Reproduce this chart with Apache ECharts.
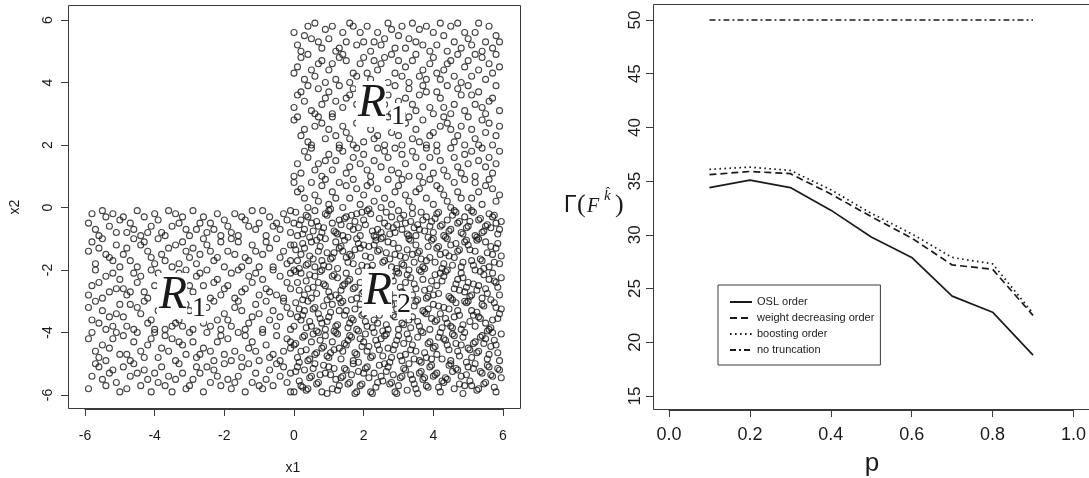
<!DOCTYPE html>
<html>
<head>
<meta charset="utf-8">
<title>R1 / R2 regions and truncation order</title>
<script src="https://cdn.jsdelivr.net/npm/echarts@6/dist/echarts.min.js"></script>
<style>
  html, body { margin: 0; padding: 0; background: #fff; }
  #main { width: 1089px; height: 478px; }
</style>
</head>
<body>
<div id="main"></div>
<script>
'use strict';

// ---- left panel: sample points (x1, x2) ----
// upper part of R1: x1 in [0,6], x2 in [0,6]
var upperPts = [
  [0.3,5.5],[2.7,5.9],[4.1,5.2],[1.2,5.0],[5.6,5.8],[3.3,5.4],[0.9,5.7],[4.8,5.1],[2.0,5.3],[5.2,5.6],[1.6,5.9],[3.9,5.0],[0.1,5.2],[2.4,5.6],[4.5,5.8],[5.9,5.3],[1.0,5.4],[3.6,5.7],[2.9,5.1],[0.6,5.9],
  [5.4,5.0],[4.3,5.5],[1.8,5.2],[3.1,5.8],[0.2,5.0],[2.2,5.0],[5.0,5.4],[3.7,5.2],[1.4,5.6],[4.7,5.9],[0.7,5.3],[2.6,5.4],[5.7,5.1],[3.4,5.9],[1.1,5.8],[4.0,5.6],[0.4,5.8],[5.3,5.9],[2.1,5.8],[3.0,5.5],
  [4.6,5.3],[1.9,5.6],[5.8,5.5],[0.8,5.1],[3.8,5.8],[2.5,5.2],[4.2,5.9],[1.5,5.3],[5.1,5.2],[0.0,5.6],[3.2,5.1],[4.9,5.6],[2.8,5.7],[1.3,5.1],[5.5,5.3],[0.5,5.4],[4.4,5.0],[3.5,5.3],[2.3,5.3],[1.7,5.8],
  [1.1,4.6],[3.8,4.1],[0.4,4.9],[5.3,4.4],[2.6,4.8],[4.6,4.2],[0.9,4.0],[3.2,4.5],[5.8,4.9],[1.7,4.3],[4.0,4.8],[2.2,4.1],[0.1,4.5],[5.0,4.7],[3.5,4.9],[1.4,4.9],[4.8,4.0],[2.9,4.3],[0.6,4.2],[5.5,4.1],
  [3.0,4.7],[1.9,4.6],[4.3,4.4],[0.2,4.8],[5.9,4.5],[2.4,4.4],[3.6,4.2],[1.2,4.1],[4.5,4.7],[0.8,4.7],[5.2,4.9],[2.0,4.8],[3.9,4.6],[1.6,4.0],[4.9,4.5],[0.3,4.1],[2.7,4.0],[5.6,4.6],[3.3,4.0],[1.0,4.4],
  [4.2,4.1],[2.5,4.6],[0.5,4.4],[5.4,4.8],[3.1,4.2],[1.5,4.7],[4.7,4.9],[2.1,4.3],[0.0,4.3],[5.7,4.3],[3.7,4.4],[1.8,4.2],[4.4,4.6],[2.8,4.9],[0.7,4.6],[5.1,4.2],[3.4,4.7],[1.3,4.8],[4.1,4.3],[2.3,4.7],
  [2.1,3.4],[4.7,3.8],[0.5,3.1],[3.6,3.6],[5.4,3.2],[1.3,3.9],[2.8,3.0],[4.2,3.5],[0.2,3.7],[5.8,3.9],[1.8,3.3],[3.3,3.8],[4.9,3.1],[0.9,3.5],[2.5,3.7],[5.1,3.6],[3.9,3.2],[1.1,3.0],[4.4,3.9],[0.0,3.2],
  [2.3,3.1],[5.6,3.4],[3.0,3.4],[1.6,3.6],[4.0,3.0],[0.7,3.8],[2.9,3.9],[5.3,3.7],[3.5,3.1],[1.4,3.2],[4.6,3.3],[0.3,3.4],[2.6,3.3],[5.9,3.1],[3.8,3.7],[1.0,3.7],[4.3,3.2],[2.0,3.8],[0.6,3.0],[5.0,3.9],
  [3.2,3.5],[1.9,3.0],[4.8,3.6],[2.7,3.6],[0.4,3.9],[5.5,3.0],[3.7,3.9],[1.2,3.4],[4.1,3.7],[2.2,3.9],[0.8,3.3],[5.7,3.5],[3.4,3.3],[1.7,3.8],[4.5,3.0],[2.4,3.5],[0.1,3.6],[5.2,3.3],[3.1,3.0],[1.5,3.5],
  [3.4,2.2],[0.8,2.7],[5.1,2.5],[2.0,2.1],[4.3,2.9],[1.5,2.4],[5.7,2.0],[2.9,2.6],[0.2,2.3],[4.0,2.4],[1.1,2.9],[3.7,2.8],[5.4,2.8],[2.4,2.3],[0.5,2.0],[4.6,2.1],[1.8,2.7],[3.1,2.0],[5.9,2.6],[0.9,2.2],
  [2.7,2.9],[4.8,2.6],[1.3,2.0],[3.5,2.5],[5.2,2.2],[0.0,2.8],[2.2,2.5],[4.1,2.0],[1.6,2.2],[3.9,2.3],[5.5,2.4],[0.6,2.6],[2.6,2.0],[4.4,2.7],[1.0,2.5],[3.2,2.7],[5.0,2.9],[0.3,2.5],[2.1,2.8],[4.7,2.3],
  [1.7,2.0],[3.6,2.1],[5.8,2.3],[0.7,2.9],[2.8,2.4],[4.2,2.6],[1.4,2.6],[3.0,2.3],[5.3,2.0],[0.4,2.1],[2.5,2.7],[4.9,2.0],[1.9,2.9],[3.8,2.0],[5.6,2.7],[1.2,2.3],[3.3,2.9],[4.5,2.5],[2.3,2.2],[0.1,2.9],
  [1.2,1.5],[4.0,1.1],[0.3,1.8],[5.5,1.3],[2.7,1.6],[3.6,1.0],[1.8,1.9],[4.9,1.7],[0.6,1.2],[5.9,1.8],[2.2,1.0],[3.2,1.4],[4.5,1.9],[1.0,1.7],[5.2,1.0],[2.9,1.9],[0.1,1.4],[3.9,1.6],[1.5,1.1],[4.7,1.3],
  [2.5,1.3],[5.6,1.6],[0.8,1.0],[3.4,1.8],[1.9,1.4],[4.2,1.5],[0.4,1.6],[5.0,1.4],[2.0,1.7],[3.0,1.1],[5.7,1.1],[1.3,1.9],[4.4,1.0],[2.6,1.8],[0.9,1.5],[3.7,1.3],[5.4,1.9],[1.6,1.3],[4.1,1.8],[0.0,1.0],
  [2.3,1.5],[3.5,1.6],[4.8,1.1],[1.1,1.2],[5.3,1.5],[2.8,1.2],[0.5,1.9],[3.8,1.9],[1.7,1.6],[4.6,1.6],[2.1,1.2],[5.8,1.4],[0.7,1.4],[3.3,1.0],[4.3,1.2],[1.4,1.8],[2.4,1.9],[5.1,1.8],[0.2,1.1],[3.1,1.7],
  [2.4,0.6],[0.7,0.2],[4.6,0.8],[1.9,0.1],[5.3,0.5],[3.1,0.9],[0.2,0.6],[3.8,0.3],[1.3,0.8],[5.8,0.2],[2.8,0.1],[4.2,0.6],[0.9,0.9],[5.0,0.0],[2.0,0.4],[3.5,0.5],[1.6,0.3],[4.9,0.9],[0.4,0.0],[3.0,0.7],
  [5.5,0.7],[2.2,0.8],[4.0,0.1],[1.1,0.5],[5.9,0.4],[2.6,0.3],[0.0,0.8],[3.7,0.8],[1.8,0.6],[4.4,0.2],[0.6,0.4],[5.1,0.3],[2.9,0.5],[3.3,0.2],[1.4,0.0],[4.7,0.5],[0.3,0.3],[5.6,0.9],[2.3,0.2],[3.9,0.9],
  [1.0,0.1],[4.3,0.4],[2.7,0.9],[0.8,0.7],[5.2,0.8],[3.4,0.0],[1.5,0.7],[4.8,0.3],[2.1,0.7],[5.7,0.6],[0.5,0.8],[3.6,0.6],[1.2,0.3],[4.1,0.7],[2.5,0.0],[0.1,0.5],[5.4,0.1],[3.2,0.4],[1.7,0.9],[4.5,0.0]
];

// left part of R1: x1 in [-6,0], x2 in [-6,0]
var leftPts = [
  [-5.6,-0.9],[-3.2,-0.3],[-1.1,-0.7],[-4.5,-0.1],[-2.4,-0.5],[-0.3,-0.2],[-5.0,-0.4],[-3.8,-0.8],[-1.7,-0.2],[-4.1,-0.6],[-0.8,-0.9],[-2.9,-0.1],[-5.8,-0.2],[-3.5,-0.6],[-1.4,-0.4],[-4.8,-0.8],[-2.1,-0.9],[-0.5,-0.5],[-5.3,-0.6],[-3.0,-0.9],
  [-1.9,-0.6],[-4.3,-0.3],[-0.1,-0.8],[-2.6,-0.3],[-5.5,-0.1],[-3.6,-0.1],[-1.2,-0.1],[-4.7,-0.5],[-2.2,-0.2],[-0.7,-0.3],[-5.1,-0.8],[-3.3,-0.5],[-1.6,-0.9],[-4.0,-0.2],[-0.4,-0.7],[-2.8,-0.7],[-5.9,-0.5],[-3.9,-0.4],[-1.0,-0.5],[-4.4,-0.9],
  [-2.0,-0.4],[-0.9,-0.1],[-5.4,-0.3],[-3.1,-0.7],[-1.5,-0.3],[-4.6,-0.7],[-2.5,-0.8],[-0.2,-0.4],[-5.2,-0.2],[-3.4,-0.2],[-1.8,-0.8],[-4.2,-0.8],[-0.6,-0.6],[-2.7,-0.5],[-5.7,-0.7],[-3.7,-0.9],[-1.3,-0.6],[-4.9,-0.3],[-2.3,-0.7],[-0.1,-0.1],
  [-4.2,-1.4],[-1.6,-1.1],[-5.7,-1.8],[-2.9,-1.3],[-0.4,-1.6],[-3.5,-1.9],[-5.1,-1.2],[-1.0,-1.9],[-4.6,-1.0],[-2.3,-1.7],[-0.1,-1.2],[-3.8,-1.5],[-5.9,-1.4],[-1.9,-1.4],[-4.0,-1.8],[-2.6,-1.0],[-0.7,-1.3],[-5.3,-1.6],[-3.2,-1.1],[-1.3,-1.7],
  [-4.9,-1.5],[-2.0,-1.9],[-0.5,-1.0],[-3.6,-1.3],[-5.5,-1.0],[-1.7,-1.5],[-4.4,-1.2],[-2.8,-1.8],[-0.9,-1.5],[-3.0,-1.6],[-5.0,-1.9],[-1.2,-1.2],[-4.7,-1.7],[-2.4,-1.4],[-0.2,-1.8],[-3.9,-1.0],[-5.6,-1.3],[-1.5,-1.9],[-4.1,-1.6],[-2.1,-1.1],
  [-0.8,-1.1],[-3.3,-1.8],[-5.2,-1.7],[-1.8,-1.0],[-4.5,-1.9],[-2.7,-1.5],[-0.3,-1.4],[-3.7,-1.7],[-5.8,-1.1],[-1.1,-1.4],[-4.8,-1.3],[-2.2,-1.6],[-0.6,-1.9],[-3.4,-1.2],[-5.4,-1.5],[-1.4,-1.6],[-4.3,-1.1],[-2.5,-1.2],[-0.1,-1.7],[-3.1,-1.4],
  [-0.9,-2.3],[-3.7,-2.8],[-5.2,-2.1],[-2.0,-2.6],[-4.4,-2.2],[-0.3,-2.9],[-5.8,-2.5],[-2.7,-2.1],[-1.5,-2.7],[-4.0,-2.5],[-3.1,-2.0],[-5.5,-2.9],[-0.6,-2.0],[-2.4,-2.9],[-4.7,-2.7],[-1.2,-2.4],[-3.4,-2.4],[-5.0,-2.3],[-1.8,-2.1],[-4.2,-2.9],
  [-0.1,-2.6],[-2.9,-2.7],[-5.7,-2.0],[-3.9,-2.1],[-1.0,-2.8],[-4.9,-2.6],[-2.2,-2.3],[-0.4,-2.2],[-3.5,-2.6],[-5.3,-2.7],[-1.6,-2.0],[-4.5,-2.4],[-2.6,-2.5],[-0.8,-2.6],[-3.2,-2.9],[-5.9,-2.8],[-1.3,-2.2],[-4.1,-2.0],[-2.1,-2.8],[-0.2,-2.4],
  [-3.8,-2.3],[-5.1,-2.6],[-1.7,-2.9],[-4.6,-2.1],[-2.8,-2.2],[-0.7,-2.7],[-3.3,-2.1],[-5.6,-2.4],[-1.1,-2.1],[-4.3,-2.7],[-2.5,-2.0],[-0.5,-2.8],[-3.6,-2.9],[-5.4,-2.2],[-1.9,-2.5],[-4.8,-2.8],[-2.3,-2.4],[-0.1,-2.1],[-3.0,-2.5],[-1.4,-2.6],
  [-2.7,-3.5],[-5.0,-3.1],[-0.5,-3.8],[-3.9,-3.3],[-1.6,-3.0],[-4.6,-3.9],[-5.8,-3.6],[-2.1,-3.9],[-0.2,-3.2],[-3.4,-3.7],[-1.0,-3.4],[-4.3,-3.0],[-5.5,-3.3],[-2.5,-3.2],[-0.8,-3.0],[-3.7,-3.9],[-1.3,-3.7],[-4.9,-3.5],[-5.2,-3.8],[-2.0,-3.4],
  [-0.4,-3.5],[-3.1,-3.1],[-1.8,-3.8],[-4.1,-3.6],[-5.7,-3.0],[-2.9,-3.9],[-0.7,-3.6],[-3.6,-3.4],[-1.5,-3.3],[-4.5,-3.2],[-5.3,-3.5],[-2.3,-3.0],[-0.1,-3.9],[-3.3,-3.6],[-1.1,-3.1],[-4.8,-3.8],[-5.9,-3.2],[-2.6,-3.7],[-0.6,-3.3],[-3.8,-3.0],
  [-1.9,-3.6],[-4.0,-3.9],[-5.1,-3.4],[-2.2,-3.6],[-0.9,-3.9],[-3.0,-3.3],[-1.4,-3.9],[-4.4,-3.4],[-5.6,-3.7],[-2.8,-3.1],[-0.3,-3.0],[-3.5,-3.8],[-1.2,-3.5],[-4.7,-3.1],[-5.4,-3.9],[-2.4,-3.8],[-0.1,-3.4],[-3.2,-3.8],[-1.7,-3.2],[-4.2,-3.7],
  [-5.9,-4.2],[-3.6,-4.6],[-1.4,-4.1],[-4.7,-4.9],[-2.2,-4.3],[-0.6,-4.7],[-5.3,-4.5],[-3.0,-4.0],[-1.0,-4.9],[-4.2,-4.4],[-2.8,-4.8],[-0.2,-4.2],[-5.6,-4.8],[-3.3,-4.3],[-1.7,-4.6],[-4.9,-4.1],[-2.5,-4.0],[-0.8,-4.4],[-5.0,-4.7],[-3.9,-4.8],
  [-1.2,-4.3],[-4.4,-4.6],[-2.0,-4.7],[-0.4,-4.9],[-5.8,-4.0],[-3.4,-4.9],[-1.9,-4.2],[-4.6,-4.3],[-2.6,-4.5],[-0.1,-4.5],[-5.2,-4.2],[-3.7,-4.1],[-1.5,-4.8],[-4.0,-4.0],[-2.3,-4.9],[-0.9,-4.0],[-5.5,-4.4],[-3.1,-4.7],[-1.1,-4.6],[-4.8,-4.7],
  [-2.9,-4.3],[-0.5,-4.1],[-5.4,-4.9],[-3.8,-4.5],[-1.6,-4.0],[-4.3,-4.8],[-2.1,-4.1],[-0.7,-4.8],[-5.1,-4.0],[-3.5,-4.2],[-1.3,-4.5],[-4.5,-4.0],[-2.7,-4.7],[-0.3,-4.6],[-5.7,-4.6],[-3.2,-4.4],[-1.8,-4.9],[-4.1,-4.2],[-2.4,-4.6],[-0.1,-4.3],
  [-4.0,-5.3],[-1.8,-5.8],[-5.6,-5.1],[-2.9,-5.5],[-0.7,-5.2],[-3.5,-5.9],[-5.1,-5.6],[-1.3,-5.0],[-4.4,-5.7],[-2.3,-5.2],[-0.2,-5.6],[-3.8,-5.1],[-5.9,-5.8],[-1.0,-5.7],[-4.7,-5.4],[-2.6,-5.9],[-0.5,-5.0],[-3.2,-5.3],[-5.3,-5.3],[-1.6,-5.4],
  [-4.1,-5.9],[-2.0,-5.0],[-0.9,-5.8],[-3.0,-5.7],[-5.7,-5.0],[-1.4,-5.9],[-4.9,-5.1],[-2.4,-5.6],[-0.4,-5.4],[-3.6,-5.4],[-5.0,-5.9],[-1.1,-5.3],[-4.3,-5.2],[-2.8,-5.1],[-0.1,-5.9],[-3.9,-5.6],[-5.4,-5.7],[-1.9,-5.5],[-4.6,-5.0],[-2.1,-5.7],
  [-0.8,-5.5],[-3.3,-5.0],[-5.8,-5.4],[-1.5,-5.1],[-4.2,-5.5],[-2.7,-5.3],[-0.6,-5.7],[-3.1,-5.8],[-5.2,-5.2],[-1.7,-5.6],[-4.8,-5.8],[-2.2,-5.4],[-0.3,-5.1],[-3.7,-5.7],[-5.5,-5.5],[-1.2,-5.6],[-4.5,-5.3],[-2.5,-5.1],[-0.1,-5.3],[-3.4,-5.5]
];

// R1 points that fall in the R2 square: x1 in [0,6], x2 in [-6,0]
var lowerPtsA = [
  [0.4,-0.3],[2.9,-0.8],[5.1,-0.1],[1.6,-0.6],[3.7,-0.4],[0.1,-0.9],[4.5,-0.7],[2.2,-0.2],[5.8,-0.5],[1.0,-0.1],[3.3,-0.9],[4.9,-0.3],[0.7,-0.6],[2.6,-0.5],[5.4,-0.8],[1.3,-0.4],[4.1,-0.2],[3.0,-0.1],[0.3,-0.7],[5.6,-0.2],
  [1.9,-0.9],[4.3,-0.9],[2.4,-0.7],[0.9,-0.2],[3.6,-0.7],[5.0,-0.6],[1.5,-0.3],[4.7,-0.5],[2.0,-0.4],[0.0,-0.5],[3.9,-0.6],[5.3,-0.4],[1.2,-0.8],[2.8,-0.3],[4.0,-0.8],[0.6,-0.1],[5.9,-0.7],[2.3,-0.9],[3.4,-0.2],[1.7,-0.7],
  [4.6,-0.1],[0.2,-0.4],[5.2,-0.9],[2.7,-0.6],[3.8,-0.3],[1.1,-0.5],[4.4,-0.4],[0.8,-0.8],[5.7,-0.3],[2.1,-0.1],[3.2,-0.5],[1.4,-0.9],[4.8,-0.8],[0.5,-0.5],[5.5,-0.6],[2.5,-0.8],[3.5,-0.9],[1.8,-0.2],[4.2,-0.6],[3.1,-0.7],
  [3.5,-1.2],[0.8,-1.7],[5.2,-1.4],[2.1,-1.9],[4.4,-1.0],[1.3,-1.3],[5.9,-1.8],[2.7,-1.1],[0.2,-1.5],[3.9,-1.6],[1.8,-1.0],[4.8,-1.9],[0.5,-1.1],[3.1,-1.8],[5.5,-1.1],[2.4,-1.4],[1.0,-1.9],[4.1,-1.3],[5.7,-1.5],[0.0,-1.2],
  [2.9,-1.5],[3.7,-1.9],[1.5,-1.6],[4.6,-1.6],[0.7,-1.4],[5.0,-1.2],[2.0,-1.2],[3.3,-1.0],[1.2,-1.1],[4.3,-1.8],[5.4,-1.7],[0.4,-1.8],[2.6,-1.7],[3.6,-1.4],[1.7,-1.8],[4.9,-1.1],[0.9,-1.0],[5.8,-1.3],[2.2,-1.6],[3.0,-1.3],
  [1.1,-1.6],[4.0,-1.0],[5.1,-1.7],[0.3,-1.3],[2.5,-1.0],[3.8,-1.7],[1.4,-1.4],[4.7,-1.4],[0.6,-1.9],[5.3,-1.0],[2.8,-1.9],[3.4,-1.5],[1.9,-1.3],[4.5,-1.2],[0.1,-1.7],[5.6,-1.9],[2.3,-1.2],[3.2,-1.6],[1.6,-1.5],[4.2,-1.5],
  [1.4,-2.5],[4.2,-2.1],[0.3,-2.8],[5.6,-2.3],[2.7,-2.6],[3.6,-2.0],[1.8,-2.9],[4.9,-2.7],[0.6,-2.2],[5.9,-2.8],[2.2,-2.0],[3.2,-2.4],[4.5,-2.9],[1.0,-2.7],[5.2,-2.0],[2.9,-2.9],[0.1,-2.4],[3.9,-2.6],[1.5,-2.1],[4.7,-2.3],
  [2.5,-2.3],[5.5,-2.6],[0.8,-2.0],[3.4,-2.8],[1.9,-2.4],[4.1,-2.5],[0.4,-2.6],[5.0,-2.4],[2.0,-2.7],[3.0,-2.1],[5.7,-2.1],[1.3,-2.9],[4.4,-2.0],[2.6,-2.8],[0.9,-2.5],[3.7,-2.3],[5.4,-2.9],[1.6,-2.3],[4.0,-2.8],[0.0,-2.0],
  [2.3,-2.5],[3.5,-2.6],[4.8,-2.1],[1.1,-2.2],[5.3,-2.5],[2.8,-2.2],[0.5,-2.9],[3.8,-2.9],[1.7,-2.6],[4.6,-2.6],[2.1,-2.2],[5.8,-2.4],[0.7,-2.4],[3.3,-2.0],[4.3,-2.2],[1.2,-2.8],[2.4,-2.9],[5.1,-2.8],[0.2,-2.1],[3.1,-2.7],
  [2.3,-3.6],[0.6,-3.2],[4.5,-3.8],[1.9,-3.1],[5.3,-3.5],[3.0,-3.9],[0.2,-3.6],[3.7,-3.3],[1.2,-3.8],[5.8,-3.2],[2.8,-3.1],[4.1,-3.6],[0.9,-3.9],[5.0,-3.0],[2.0,-3.4],[3.4,-3.5],[1.5,-3.3],[4.8,-3.9],[0.4,-3.0],[3.1,-3.7],
  [5.5,-3.7],[2.1,-3.8],[4.0,-3.1],[1.0,-3.5],[5.9,-3.4],[2.6,-3.3],[0.0,-3.8],[3.6,-3.8],[1.7,-3.6],[4.3,-3.2],[0.7,-3.4],[5.1,-3.3],[2.9,-3.5],[3.2,-3.2],[1.4,-3.0],[4.6,-3.5],[0.3,-3.3],[5.6,-3.9],[2.2,-3.2],[3.9,-3.9],
  [1.1,-3.1],[4.2,-3.4],[2.7,-3.9],[0.8,-3.7],[5.2,-3.8],[3.5,-3.0],[1.6,-3.7],[4.7,-3.3],[2.4,-3.7],[5.7,-3.6],[0.5,-3.8],[3.3,-3.6],[1.3,-3.3],[4.4,-3.7],[2.5,-3.0],[0.1,-3.5],[5.4,-3.1],[3.8,-3.4],[1.8,-3.9],[4.9,-3.0],
  [0.5,-4.3],[3.2,-4.7],[5.4,-4.1],[1.7,-4.9],[4.0,-4.5],[2.5,-4.2],[0.1,-4.8],[4.7,-4.6],[1.2,-4.0],[3.6,-4.9],[5.8,-4.4],[2.1,-4.6],[0.8,-4.5],[4.3,-4.2],[3.0,-4.1],[5.1,-4.8],[1.5,-4.4],[2.8,-4.8],[4.9,-4.0],[0.3,-4.1],
  [3.9,-4.3],[5.6,-4.7],[1.9,-4.2],[2.3,-4.0],[4.5,-4.9],[0.6,-4.7],[3.4,-4.4],[5.2,-4.3],[1.0,-4.8],[2.7,-4.5],[4.1,-4.7],[0.0,-4.4],[3.7,-4.0],[5.9,-4.9],[1.4,-4.6],[2.0,-4.3],[4.8,-4.4],[0.9,-4.1],[3.1,-4.9],[5.5,-4.2],
  [1.8,-4.7],[2.6,-4.1],[4.4,-4.4],[0.4,-4.9],[3.5,-4.6],[5.0,-4.5],[1.1,-4.3],[2.9,-4.4],[4.2,-4.0],[0.7,-4.0],[3.8,-4.8],[5.7,-4.0],[1.6,-4.1],[2.2,-4.8],[4.6,-4.1],[0.2,-4.6],[3.3,-4.2],[5.3,-4.6],[1.3,-4.5],[2.4,-4.4],
  [3.6,-5.3],[1.1,-5.8],[5.0,-5.1],[2.4,-5.6],[0.3,-5.2],[4.2,-5.9],[5.7,-5.4],[1.7,-5.0],[3.0,-5.7],[4.7,-5.2],[0.7,-5.6],[2.0,-5.3],[5.3,-5.8],[3.3,-5.0],[1.4,-5.4],[4.4,-5.5],[0.0,-5.9],[2.7,-5.1],[5.9,-5.2],[3.8,-5.7],
  [1.0,-5.1],[4.0,-5.4],[2.2,-5.9],[5.5,-5.6],[0.5,-5.4],[3.1,-5.4],[1.9,-5.7],[4.9,-5.7],[2.9,-5.9],[0.9,-5.3],[5.2,-5.0],[3.5,-5.8],[1.5,-5.2],[4.5,-5.0],[2.5,-5.4],[0.2,-5.7],[5.8,-5.9],[3.9,-5.1],[1.2,-5.5],[4.1,-5.3],
  [2.1,-5.1],[0.6,-5.0],[5.4,-5.3],[3.4,-5.5],[1.8,-5.9],[4.8,-5.4],[2.8,-5.6],[0.4,-5.8],[5.1,-5.7],[3.2,-5.2],[1.6,-5.6],[4.6,-5.8],[2.6,-5.0],[0.8,-5.9],[5.6,-5.1],[3.7,-5.5],[1.3,-5.7],[4.3,-5.6],[2.3,-5.3],[0.1,-5.1]
];

// R2 points: x1 in [0,6], x2 in [-6,0]
var lowerPtsB = [
  [1.35,-0.55],[4.65,-0.15],[0.25,-0.85],[3.05,-0.35],[5.45,-0.75],[2.15,-0.05],[3.85,-0.95],[0.95,-0.25],[5.05,-0.45],[1.85,-0.65],[4.25,-0.55],[2.75,-0.85],[0.05,-0.15],[5.75,-0.25],[3.45,-0.65],[1.55,-0.95],[4.85,-0.85],[2.45,-0.35],[0.65,-0.45],[3.65,-0.15],
  [5.25,-0.95],[1.15,-0.75],[4.05,-0.35],[2.95,-0.55],[0.45,-0.95],[5.55,-0.55],[1.95,-0.15],[4.45,-0.75],[3.25,-0.85],[0.85,-0.65],[2.55,-0.95],[5.85,-0.85],[3.95,-0.45],[1.45,-0.35],[4.75,-0.45],[0.15,-0.55],[2.25,-0.75],[3.55,-0.55],[5.15,-0.15],[1.05,-0.05],
  [4.35,-0.95],[2.65,-0.15],[0.55,-0.75],[3.75,-0.75],[5.65,-0.65],[1.75,-0.45],[4.15,-0.15],[2.85,-0.65],[0.35,-0.25],[3.15,-0.25],[5.35,-0.35],[1.25,-0.85],[4.95,-0.65],[2.05,-0.55],[0.75,-0.95],[3.35,-0.45],[5.95,-0.45],[1.65,-0.25],[4.55,-0.25],[2.35,-0.95],
  [4.75,-1.35],[0.35,-1.85],[2.85,-1.15],[5.35,-1.65],[1.45,-1.05],[3.55,-1.45],[0.05,-1.35],[4.25,-1.95],[2.05,-1.55],[5.85,-1.15],[1.05,-1.65],[3.15,-1.85],[4.95,-1.05],[0.75,-1.25],[2.55,-1.75],[5.55,-1.45],[1.75,-1.35],[3.85,-1.25],[0.45,-1.55],[4.45,-1.55],
  [2.35,-1.05],[5.15,-1.85],[1.25,-1.95],[3.35,-1.05],[0.95,-1.45],[4.05,-1.75],[2.65,-1.45],[5.65,-1.25],[1.55,-1.75],[3.65,-1.65],[0.15,-1.95],[4.65,-1.15],[2.15,-1.25],[5.05,-1.35],[1.95,-1.85],[3.05,-1.55],[0.65,-1.05],[4.35,-1.45],[2.95,-1.95],[5.95,-1.55],
  [1.35,-1.25],[3.95,-1.05],[0.85,-1.85],[4.85,-1.75],[2.45,-1.35],[5.25,-1.05],[1.65,-1.55],[3.45,-1.75],[0.25,-1.15],[4.15,-1.25],[2.75,-1.65],[5.45,-1.95],[1.15,-1.45],[3.75,-1.95],[0.55,-1.65],[4.55,-1.85],[2.25,-1.85],[5.75,-1.75],[1.85,-1.15],[3.25,-1.35],
  [2.65,-2.45],[5.05,-2.85],[0.45,-2.15],[3.75,-2.65],[1.55,-2.35],[4.35,-2.05],[5.85,-2.55],[2.15,-2.95],[0.15,-2.65],[3.25,-2.15],[1.05,-2.85],[4.65,-2.45],[5.45,-2.15],[2.45,-2.25],[0.85,-2.45],[3.55,-2.95],[1.85,-2.05],[4.15,-2.75],[5.65,-2.95],[2.95,-2.05],
  [0.35,-2.35],[3.95,-2.35],[1.35,-2.65],[4.85,-2.25],[5.25,-2.65],[2.25,-2.55],[0.65,-2.75],[3.45,-2.45],[1.65,-2.95],[4.45,-2.85],[5.95,-2.25],[2.75,-2.75],[0.05,-2.05],[3.05,-2.55],[1.15,-2.15],[4.05,-2.15],[5.15,-2.45],[2.05,-2.35],[0.95,-2.95],[3.85,-2.85],
  [1.45,-2.45],[4.75,-2.65],[5.55,-2.75],[2.55,-2.85],[0.25,-2.95],[3.65,-2.05],[1.95,-2.75],[4.25,-2.35],[5.75,-2.35],[2.85,-2.35],[0.55,-2.55],[3.15,-2.75],[1.25,-2.25],[4.95,-2.55],[5.35,-2.05],[2.35,-2.65],[0.75,-2.05],[3.35,-2.25],[1.75,-2.55],[4.55,-2.95],
  [0.95,-3.65],[3.45,-3.15],[5.65,-3.85],[1.75,-3.25],[4.35,-3.55],[2.55,-3.95],[0.25,-3.45],[4.95,-3.05],[3.15,-3.75],[1.35,-3.05],[5.25,-3.35],[2.05,-3.65],[0.65,-3.95],[3.85,-3.25],[4.55,-3.85],[1.05,-3.35],[5.85,-3.55],[2.85,-3.45],[0.05,-3.05],[3.65,-3.95],
  [4.15,-3.15],[1.55,-3.85],[5.45,-3.15],[2.35,-3.15],[0.45,-3.65],[3.25,-3.35],[4.75,-3.45],[1.95,-3.45],[5.05,-3.65],[2.65,-3.75],[0.85,-3.15],[3.95,-3.55],[4.45,-3.25],[1.25,-3.75],[5.55,-3.95],[2.15,-3.05],[0.35,-3.85],[3.55,-3.65],[4.85,-3.75],[1.65,-3.55],
  [5.95,-3.25],[2.95,-3.25],[0.55,-3.25],[3.05,-3.05],[4.25,-3.85],[1.85,-3.95],[5.35,-3.55],[2.45,-3.45],[0.75,-3.55],[3.75,-3.35],[4.65,-3.05],[1.45,-3.45],[5.75,-3.05],[2.75,-3.05],[0.15,-3.25],[3.35,-3.85],[4.05,-3.65],[1.15,-3.95],[5.15,-3.45],[2.25,-3.85],
  [4.05,-4.45],[1.65,-4.15],[5.55,-4.85],[0.35,-4.55],[2.95,-4.25],[3.65,-4.95],[1.05,-4.65],[5.15,-4.35],[2.25,-4.75],[4.55,-4.05],[0.75,-4.25],[3.35,-4.55],[5.85,-4.65],[1.95,-4.45],[4.25,-4.85],[0.15,-4.95],[2.65,-4.05],[3.85,-4.35],[1.35,-4.85],[5.35,-4.15],
  [2.45,-4.55],[4.75,-4.75],[0.55,-4.05],[3.05,-4.75],[5.05,-4.55],[1.45,-4.35],[4.35,-4.25],[2.05,-4.05],[0.95,-4.75],[3.55,-4.15],[5.65,-4.45],[2.75,-4.95],[4.95,-4.95],[0.05,-4.35],[3.15,-4.35],[1.75,-4.65],[4.45,-4.55],[2.35,-4.25],[5.95,-4.05],[0.65,-4.65],
  [3.75,-4.65],[1.25,-4.05],[5.25,-4.65],[2.85,-4.55],[4.15,-4.15],[0.85,-4.45],[3.45,-4.85],[1.85,-4.95],[5.75,-4.25],[2.55,-4.75],[4.65,-4.35],[0.25,-4.15],[3.95,-4.85],[1.15,-4.55],[5.45,-4.35],[2.15,-4.45],[4.85,-4.15],[0.45,-4.85],[3.25,-4.05],[1.55,-4.25],
  [2.15,-5.45],[4.85,-5.95],[0.55,-5.15],[3.45,-5.65],[5.35,-5.25],[1.25,-5.85],[3.95,-5.05],[0.15,-5.55],[2.65,-5.25],[5.75,-5.75],[1.65,-5.35],[4.35,-5.45],[2.95,-5.95],[0.85,-5.05],[5.05,-5.55],[3.15,-5.15],[1.95,-5.65],[4.55,-5.25],[0.35,-5.85],[3.75,-5.45],
  [5.55,-5.05],[2.35,-5.75],[1.05,-5.35],[4.15,-5.75],[0.65,-5.65],[2.85,-5.35],[5.95,-5.45],[3.55,-5.95],[1.45,-5.15],[4.75,-5.65],[2.45,-5.05],[0.05,-5.25],[3.25,-5.85],[5.25,-5.85],[1.85,-5.25],[4.05,-5.35],[2.75,-5.65],[0.95,-5.95],[5.65,-5.35],[3.85,-5.75],
  [1.35,-5.45],[4.45,-5.05],[2.05,-5.15],[0.45,-5.45],[3.05,-5.45],[5.15,-5.15],[1.75,-5.95],[4.95,-5.35],[2.55,-5.55],[0.75,-5.35],[3.65,-5.25],[5.45,-5.65],[1.15,-5.15],[4.25,-5.55],[2.25,-5.95],[0.25,-5.75],[3.35,-5.35],[5.85,-5.15],[1.55,-5.65],[4.65,-5.15]
];

// ---- right panel: Gamma(F^k) against p ----
var pValues = [0.1, 0.2, 0.3, 0.4, 0.5, 0.6, 0.7, 0.8, 0.9];
var oslOrder = [34.4, 35.1, 34.4, 32.3, 29.8, 27.9, 24.3, 22.8, 18.8];
var weightDecreasing = [35.6, 35.9, 35.7, 33.8, 31.7, 29.7, 27.2, 26.8, 22.5];
var boostingOrder = [36.1, 36.3, 36.0, 34.2, 32.0, 30.1, 27.9, 27.3, 22.7];
var noTruncation = [50, 50, 50, 50, 50, 50, 50, 50, 50];
var seriesNames = ['OSL order', 'weight decreasing order', 'boosting order', 'no truncation'];

var config = {
    ink: '#1a1a1a',
    frame: '#3a3a3a',
    sans: '"Liberation Sans", Arial, sans-serif',
    serif: '"Liberation Serif", "DejaVu Serif", serif',
    // R-style frames drawn around each plot region (the axes sit offset from the data range)
    leftBox: { x: 68.5, y: 5.5, width: 452, height: 403 },
    rightBox: { x: 653.5, y: 4.5, width: 438, height: 405 }
};

function pairs(xs, ys) {
    return xs.map(function (x, i) { return [x, ys[i]]; });
}

function scatterSeries(name, pts) {
    return {
        name: name,
        type: 'scatter',
        xAxisIndex: 0,
        yAxisIndex: 0,
        data: pts,
        symbol: 'circle',
        symbolSize: 6,
        silent: true,
        clip: false,
        itemStyle: {
            color: 'rgba(0,0,0,0)',
            borderColor: '#151515',
            borderWidth: 1.1
        }
    };
}

function lineSeries(name, values, dash) {
    return {
        name: name,
        type: 'line',
        xAxisIndex: 1,
        yAxisIndex: 1,
        data: pairs(pValues, values),
        symbol: 'none',
        silent: true,
        clip: false,
        itemStyle: { color: config.ink },
        lineStyle: { color: config.ink, width: 1.7, type: dash }
    };
}

function valueAxis(grid, min, max, step, offset, opts) {
    return {
        type: 'value',
        gridIndex: grid,
        min: min,
        max: max,
        interval: step,
        offset: offset,
        splitLine: { show: false },
        axisLine: { show: true, onZero: false, lineStyle: { color: config.frame, width: 1 } },
        axisTick: { show: true, inside: false, length: 7, lineStyle: { color: config.frame, width: 1 } },
        axisLabel: Object.assign({
            color: config.ink,
            fontFamily: config.sans,
            showMinLabel: true,
            showMaxLabel: true
        }, opts)
    };
}

function boxRect(box) {
    return {
        type: 'rect',
        silent: true,
        z: 0,
        shape: box,
        style: { fill: 'none', stroke: config.frame, lineWidth: 1 }
    };
}

function labelText(x, y, text, font, extra) {
    return {
        type: 'text',
        silent: true,
        z: 100,
        style: Object.assign({
            x: x,
            y: y,
            text: text,
            font: font,
            fill: config.ink,
            textAlign: 'left',
            textVerticalAlign: 'middle'
        }, extra || {})
    };
}

function regionLabel(x, y, sub) {
    // "R" with a subscript, printed on a white patch like the original
    return [
        labelText(x, y, 'R', 'italic 46px ' + config.serif, { backgroundColor: '#fff', padding: [0, 0, 0, 2] }),
        labelText(x + 35, y + 13, sub, '28px ' + config.serif, { backgroundColor: '#fff' })
    ];
}

function displayChart() {
    var myChart = echarts.init(document.getElementById('main'), null, { renderer: 'canvas' });

    var option = {
        animation: false,
        backgroundColor: '#fff',
        // grids span the tick range only; axes are pushed out to the frames with offset
        grid: [
            { left: 85, top: 20, width: 418, height: 375 },
            { left: 669, top: 20, width: 406, height: 376 }
        ],
        xAxis: [
            valueAxis(0, -6, 6, 2, 14, { fontSize: 14, margin: 20 }),
            valueAxis(1, 0, 1, 0.2, 14, {
                fontSize: 18, margin: 16,
                formatter: function (v) { return v.toFixed(1); }
            })
        ],
        yAxis: [
            valueAxis(0, -6, 6, 2, 17, { fontSize: 14, margin: 13, rotate: 90 }),
            valueAxis(1, 15, 50, 5, 16, { fontSize: 17, margin: 9, rotate: 90 })
        ],
        legend: {
            orient: 'vertical',
            left: 718,
            top: 285,
            data: seriesNames,
            itemWidth: 22,
            itemHeight: 14,
            itemGap: 2,
            padding: [10, 6, 8, 11],
            borderColor: config.frame,
            borderWidth: 1,
            backgroundColor: '#fff',
            selectedMode: false,
            itemStyle: { color: 'rgba(0,0,0,0)', borderColor: 'rgba(0,0,0,0)', borderWidth: 0, opacity: 0 },
            textStyle: { fontSize: 11, lineHeight: 14, fontFamily: config.sans, color: config.ink }
        },
        series: [
            scatterSeries('upper', upperPts),
            scatterSeries('left', leftPts),
            scatterSeries('lowerA', lowerPtsA),
            scatterSeries('lowerB', lowerPtsB),
            lineSeries(seriesNames[0], oslOrder, 'solid'),
            lineSeries(seriesNames[1], weightDecreasing, [7, 4]),
            lineSeries(seriesNames[2], boostingOrder, [1.6, 3.4]),
            lineSeries(seriesNames[3], noTruncation, [6, 3, 2, 3])
        ],
        graphic: [].concat(
            [boxRect(config.leftBox), boxRect(config.rightBox)],
            regionLabel(356, 104, '1'),
            regionLabel(157, 296, '1'),
            regionLabel(362, 292, '2'),
            [
                labelText(293, 468, 'x1', '14px ' + config.sans, { textAlign: 'center' }),
                {
                    type: 'text', silent: true, x: 15, y: 207, rotation: Math.PI / 2,
                    style: { text: 'x2', font: '14px ' + config.sans, fill: config.ink, textAlign: 'center', textVerticalAlign: 'middle' }
                },
                labelText(872, 464, 'p', '26px ' + config.sans, { textAlign: 'center' }),
                labelText(564, 206, 'Γ', '23px ' + config.sans),
                labelText(577, 205, '(', '26px ' + config.serif),
                labelText(587, 207, 'F', 'italic 20px ' + config.serif),
                labelText(604, 196, 'k\u0302', 'italic 15px ' + config.serif),
                labelText(615, 205, ')', '26px ' + config.serif)
            ]
        )
    };

    myChart.setOption(option);
}

displayChart();
</script>
</body>
</html>
